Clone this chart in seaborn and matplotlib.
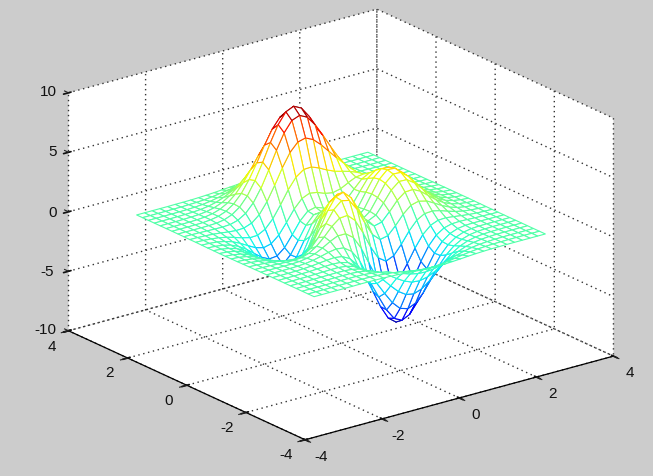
import numpy as np
import matplotlib
matplotlib.use("Agg")
import matplotlib.pyplot as plt
import matplotlib.transforms as mtransforms
from matplotlib.text import Text
import seaborn as sns

x_grid = [-3.0,-2.8,-2.6,-2.4,-2.2,-2.0,-1.8,-1.6,-1.4,-1.2,-1.0,-0.8,-0.6,-0.4,-0.2,0.0,0.2,0.4,0.6,0.8,1.0,1.2,1.4,1.6,1.8,2.0,2.2,2.4,2.6,2.8,3.0]
y_grid = [-3.0,-2.8,-2.6,-2.4,-2.2,-2.0,-1.8,-1.6,-1.4,-1.2,-1.0,-0.8,-0.6,-0.4,-0.2,0.0,0.2,0.4,0.6,0.8,1.0,1.2,1.4,1.6,1.8,2.0,2.2,2.4,2.6,2.8,3.0]
z_rows = [
[0,0,0,0,0,0,.01,.01,0,-.01,-.03,-.06,-.11,-.16,-.21,-.25,-.25,-.24,-.20,-.16,-.11,-.07,-.04,-.02,-.01,0,0,0,0,0,0],
[0,0,0,0,.01,.01,.01,.01,0,-.03,-.08,-.15,-.26,-.38,-.48,-.55,-.57,-.54,-.46,-.35,-.25,-.16,-.09,-.05,-.02,-.01,0,0,0,0,0],
[0,0,0,0,.01,.01,.01,.01,-.01,-.07,-.17,-.33,-.55,-.79,-1.0,-1.15,-1.18,-1.11,-.94,-.72,-.50,-.32,-.19,-.10,-.05,-.02,-.01,0,0,0,0],
[0,0,0,.01,.01,.02,.02,.02,-.02,-.12,-.31,-.61,-1.0,-1.43,-1.83,-2.09,-2.15,-2.01,-1.70,-1.31,-.92,-.58,-.33,-.17,-.08,-.03,-.01,0,0,0,0],
[0,0,0,.01,.02,.03,.04,.03,-.03,-.18,-.48,-.95,-1.58,-2.28,-2.93,-3.36,-3.48,-3.25,-2.76,-2.13,-1.48,-.93,-.53,-.27,-.13,-.05,-.02,-.01,0,0,0],
[0,0,.01,.01,.03,.05,.07,.07,0,-.19,-.59,-1.24,-2.14,-3.15,-4.10,-4.76,-4.96,-4.66,-3.96,-3.03,-2.10,-1.31,-.74,-.37,-.16,-.06,-.02,0,0,0,0],
[0,0,.01,.02,.03,.07,.11,.13,.09,-.09,-.53,-1.29,-2.38,-3.68,-4.93,-5.83,-6.16,-5.84,-4.97,-3.80,-2.61,-1.60,-.87,-.42,-.17,-.05,-.01,0,0,0,0],
[0,0,0,.01,.04,.08,.15,.22,.27,.18,-.16,-.87,-1.99,-3.42,-4.89,-6.03,-6.54,-6.28,-5.38,-4.09,-2.76,-1.63,-.83,-.34,-.10,0,.02,.02,.01,.01,0],
[0,0,0,0,.02,.07,.16,.31,.48,.59,.51,.06,-.86,-2.20,-3.73,-5.04,-5.77,-5.70,-4.92,-3.68,-2.38,-1.27,-.52,-.10,.07,.10,.08,.05,.03,.01,0],
[0,-.01,-.02,-.03,-.02,.01,.11,.30,.62,1.0,1.30,1.30,.81,-.24,-1.65,-3.05,-3.99,-4.19,-3.64,-2.61,-1.48,-.53,.06,.32,.35,.27,.18,.10,.05,.02,.01],
[-.01,-.02,-.04,-.08,-.11,-.13,-.08,.12,.54,1.15,1.86,2.38,2.44,1.84,.66,-.73,-1.83,-2.28,-2.0,-1.2,-.27,.46,.83,.87,.72,.50,.30,.16,.08,.03,.01],
[-.01,-.04,-.08,-.15,-.25,-.35,-.41,-.29,.12,.87,1.88,2.86,3.44,3.29,2.39,1.09,-.09,-.69,-.55,.12,.91,1.48,1.65,1.49,1.13,.75,.44,.23,.11,.05,.02],
[-.02,-.05,-.12,-.24,-.42,-.65,-.86,-.91,-.62,.12,1.28,2.56,3.52,3.74,3.11,1.93,.78,.20,.36,1.06,1.85,2.36,2.40,2.07,1.54,1.01,.59,.31,.15,.06,.02],
[-.03,-.07,-.16,-.32,-.59,-.95,-1.34,-1.60,-1.51,-.90,.26,1.68,2.87,3.34,2.93,1.90,.88,.41,.72,1.57,2.47,3.01,2.99,2.54,1.88,1.22,.71,.37,.18,.07,.03],
[-.03,-.08,-.19,-.39,-.72,-1.19,-1.74,-2.20,-2.32,-1.89,-.82,.61,1.91,2.55,2.31,1.46,.60,.31,.80,1.80,2.82,3.41,3.37,2.85,2.10,1.36,.79,.41,.20,.08,.03],
[-.04,-.09,-.21,-.43,-.80,-1.33,-1.98,-2.58,-2.86,-2.58,-1.65,-.29,1.02,1.75,1.66,.98,.29,.16,.77,1.87,2.93,3.54,3.50,2.95,2.17,1.41,.82,.43,.20,.08,.03],
[-.04,-.09,-.20,-.42,-.79,-1.34,-2.01,-2.66,-3.03,-2.88,-2.10,-.88,.35,1.09,1.11,.60,.07,.04,.70,1.79,2.82,3.40,3.35,2.83,2.08,1.35,.78,.41,.19,.08,.03],
[-.03,-.08,-.19,-.38,-.72,-1.22,-1.84,-2.46,-2.84,-2.77,-2.13,-1.09,0,.70,.78,.41,.02,.05,.66,1.62,2.53,3.03,2.98,2.51,1.84,1.19,.69,.36,.17,.07,.03],
[-.03,-.07,-.15,-.32,-.60,-1.01,-1.53,-2.04,-2.36,-2.29,-1.75,-.84,.13,.78,.93,.69,.39,.40,.85,1.58,2.25,2.59,2.50,2.09,1.52,.98,.57,.30,.14,.06,.02],
[-.02,-.05,-.11,-.24,-.44,-.75,-1.12,-1.47,-1.64,-1.48,-.92,-.03,.92,1.62,1.90,1.78,1.53,1.41,1.56,1.89,2.18,2.27,2.08,1.68,1.20,.77,.44,.23,.11,.05,.02],
[-.01,-.03,-.08,-.16,-.29,-.48,-.69,-.85,-.82,-.48,.23,1.23,2.32,3.19,3.66,3.69,3.43,3.09,2.81,2.62,2.43,2.17,1.80,1.36,.93,.58,.33,.17,.08,.03,.01],
[-.01,-.02,-.05,-.09,-.16,-.25,-.31,-.28,-.04,.51,1.43,2.63,3.93,5.04,5.73,5.90,5.59,4.99,4.27,3.55,2.87,2.24,1.66,1.15,.74,.44,.24,.12,.05,.02,.01],
[0,-.01,-.02,-.04,-.06,-.07,-.03,.15,.55,1.26,2.34,3.70,5.17,6.46,7.32,7.57,7.24,6.44,5.38,4.26,3.20,2.29,1.56,1.0,.60,.34,.17,.08,.04,.02,.01],
[0,0,-.01,-.01,0,.03,.14,.39,.86,1.63,2.74,4.11,5.59,6.91,7.81,8.10,7.77,6.90,5.71,4.42,3.21,2.20,1.41,.85,.48,.26,.13,.06,.03,.01,0],
[0,0,0,.01,.02,.08,.20,.45,.90,1.61,2.60,3.82,5.14,6.31,7.13,7.41,7.11,6.31,5.20,3.98,2.84,1.89,1.18,.69,.37,.19,.09,.04,.02,.01,0],
[0,0,0,.01,.03,.08,.19,.40,.76,1.32,2.10,3.05,4.07,4.99,5.63,5.86,5.62,4.99,4.10,3.12,2.21,1.45,.89,.51,.27,.13,.06,.03,.01,0,0],
[0,0,0,.01,.03,.06,.14,.29,.54,.94,1.47,2.13,2.83,3.47,3.91,4.07,3.91,3.47,2.85,2.16,1.52,.99,.60,.34,.18,.09,.04,.02,.01,0,0],
[0,0,0,.01,.02,.04,.09,.18,.34,.58,.91,1.32,1.75,2.14,2.41,2.51,2.41,2.14,1.75,1.33,.93,.61,.36,.20,.10,.05,.02,.01,0,0,0],
[0,0,0,0,.01,.02,.05,.10,.19,.32,.50,.72,.96,1.18,1.33,1.38,1.33,1.18,.96,.73,.51,.33,.20,.11,.06,.03,.01,0,0,0,0],
[0,0,0,0,.01,.01,.03,.05,.09,.16,.25,.35,.47,.57,.64,.67,.64,.57,.47,.35,.25,.16,.10,.05,.03,.01,.01,0,0,0,0],
[0,0,0,0,0,.01,.01,.02,.04,.07,.11,.16,.21,.26,.29,.30,.29,.26,.21,.16,.11,.07,.04,.02,.01,.01,0,0,0,0,0],
]
xy_ticks = [-4, -2, 0, 2, 4]
z_ticks = [-10, -5, 0, 5, 10]

sns.set_theme(style="white", rc={"font.family": ["Liberation Sans"], "font.size": 11,
                                 "axes.unicode_minus": False})
jet = matplotlib.colormaps["jet"]

W, H = 653, 477
rect = [5.4 / W, 14.3 / H, 653.5 / W, 462 / H]
fig = plt.figure(figsize=(W / 100, H / 100), dpi=100, facecolor="#cccccc")
ax = fig.add_axes(rect, projection="3d", proj_type="ortho")
ax.apply_aspect = lambda position=None: None
ax.set_position(rect)
ax.patch.set_alpha(0)
ax.set_box_aspect((1, 1, 1))
ax.view_init(elev=30, azim=-127.5)

X, Y = np.meshgrid(x_grid, y_grid)
Z = np.array(z_rows, dtype=float)
colors = jet((Z - Z.min()) / (Z.max() - Z.min()))
surf = ax.plot_surface(X, Y, Z, rstride=1, cstride=1, facecolors=colors, shade=False,
                       linewidth=0.8, antialiased=True)
surf.set_facecolor((1, 1, 1, 1))
surf.set_edgecolor(colors[:-1, :-1].reshape(-1, 4))

# Tick marks pointing out of the box, as short segments in data space.
tick_style = dict(color="#222222", linewidth=0.8, solid_capstyle="butt")
for t in xy_ticks:
    ax.plot([t, t], [-4, -4.2], [-10, -10], **tick_style)
    ax.plot([-4, -4.2], [t, t], [-10, -10], **tick_style)
for t in z_ticks:
    ax.plot([-4, -4], [4, 4.15], [t, t], **tick_style)

ax.set_xlim(-4, 4)
ax.set_ylim(-4, 4)
ax.set_zlim(-10, 10)
ax.set_xticks(xy_ticks)
ax.set_yticks(xy_ticks)
ax.set_zticks(z_ticks)

for axis in (ax.xaxis, ax.yaxis, ax.zaxis):
    axis.set_pane_color((1, 1, 1, 1))
    axis.pane.set_edgecolor("none")
    axis.line.set_color("black")
    axis.line.set_linewidth(0.9)
    axis._axinfo["grid"].update(color="#333333", linewidth=1.0, linestyle=(0, (1, 2.6)))
    axis.set_tick_params(labelsize=11, colors="#111111", pad=0)
ax.zaxis.line.set_linewidth(0)
ax.grid(True)


def nudge(axis, offsets):
    # Axis3D resets the label transform on every draw, so the pixel offset is kept in set_transform.
    for tick, (dx, dy) in zip(axis.get_major_ticks(), offsets):
        label = tick.label1
        shift = mtransforms.Affine2D().translate(dx, dy)
        label.set_transform = lambda t, lab=label, s=shift: Text.set_transform(lab, t + s)


nudge(ax.xaxis, [(7, 4), (7, 4), (7, 4), (7, 4), (7, 4)])
nudge(ax.yaxis, [(-7, 5), (-7, 5), (-6, 5), (-6, 5), (-5, 4)])
nudge(ax.zaxis, [(-2, 8), (-1, 6), (5, 6), (5, 7), (1, 8)])

fig.savefig("out.png", dpi=100, facecolor=fig.get_facecolor())
